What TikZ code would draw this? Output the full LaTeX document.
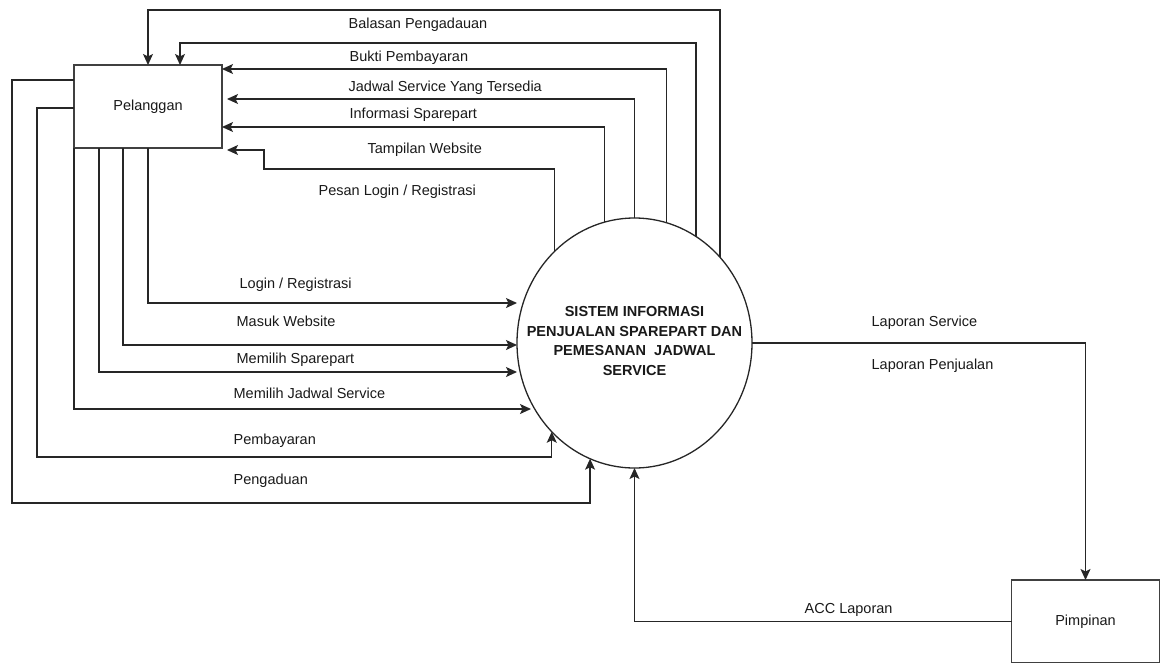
\documentclass[tikz,border=0pt]{standalone}
\usepackage{fontspec}
\setmainfont{Liberation Sans}
\usetikzlibrary{arrows.meta,calc,shapes.geometric}
\begin{document}
\begin{tikzpicture}[x=1pt,y=-1pt,
  line width=1.3pt,
  flow/.style={draw=black!85, -{Stealth[length=11pt,width=10pt,inset=2.5pt]}},
  entity/.style={draw=black!75, fill=white, minimum width=148pt, minimum height=83pt,
    inner sep=0pt, outer sep=0pt, font=\fontsize{14.5}{17}\selectfont, text=black!90},
  process/.style={draw=black!85, fill=white, ellipse, minimum width=235pt,
    minimum height=250pt, inner sep=0pt, outer sep=0pt},
  lbl/.style={anchor=base west, inner sep=0pt, font=\fontsize{14.5}{17}\selectfont, text=black!90}]
\useasboundingbox (0,0) rectangle (1162,662);

% external entities and the central process
\node[entity] (pel) at (148,106.5) {Pelanggan};
\node[entity] (pim) at (1085.5,621.5) {Pimpinan};
\node[process] (sys) at (634.5,343) {};
\node[align=center, inner sep=0pt, text=black!90,
  font=\bfseries\fontsize{14.5}{19.5}\selectfont] (systxt) at (634.5,341)
  {SISTEM INFORMASI\\PENJUALAN SPAREPART DAN\\PEMESANAN\ \ JADWAL\\SERVICE};

% flows from the system back to Pelanggan
\draw[flow] (sys.45.07) |- (148,10) -- (pel.north);
\draw[flow] (sys.60.57) |- (180,43) -- (pel.north -| 180,0);
\draw[flow] (sys.75.34) |- (pel.east |- 0,69);
\draw[flow, shorten >=5pt] (sys.north) |- (pel.east |- 0,99);
\draw[flow] (sys.104.18) |- (pel.east |- 0,127);
\draw[flow, shorten >=5pt] (sys.131.48) |- (264,169) |- (pel.east |- 0,150);

% flows from Pelanggan into the system
\draw[flow] (pel.south) |- (sys.west |- 0,303);
\draw[flow] (pel.south -| 123,0) |- (sys.west |- 0,345);
\draw[flow] (pel.south -| 99,0) |- (sys.west |- 0,372);
\draw[flow] (pel.south west) |- ($(sys.west |- 0,409)+(14,0)$);
\draw[flow] (pel.west |- 0,108) -| (37,457) -| (sys.227.85);
\draw[flow] (pel.west |- 0,80) -| (12,503) -| (sys.249.96);

% flows between the system and Pimpinan
\draw[flow] (sys.east) -| (pim.north);
\draw[flow] (pim.west) -| (sys.south);

% flow labels
\node[lbl] (lBalasan) at (348,28) {Balasan Pengadauan};
\node[lbl] (lBukti) at (349,61) {Bukti Pembayaran};
\node[lbl] (lJadwalTersedia) at (348,91) {Jadwal Service Yang Tersedia};
\node[lbl] (lInfo) at (349,118) {Informasi Sparepart};
\node[lbl] (lTampilan) at (367,153) {Tampilan Website};
\node[lbl] (lPesan) at (318,195) {Pesan Login / Registrasi};
\node[lbl] (lLogin) at (239,288) {Login / Registrasi};
\node[lbl] (lMasuk) at (236,326) {Masuk Website};
\node[lbl] (lSparepart) at (236,363) {Memilih Sparepart};
\node[lbl] (lJadwal) at (233,398) {Memilih Jadwal Service};
\node[lbl] (lBayar) at (233,444) {Pembayaran};
\node[lbl] (lAdu) at (233,484) {Pengaduan};
\node[lbl] (lLapService) at (871,326) {Laporan Service};
\node[lbl] (lLapJual) at (871,369) {Laporan Penjualan};
\node[lbl] (lAcc) at (804,613) {ACC Laporan};
\end{tikzpicture}
\end{document}
